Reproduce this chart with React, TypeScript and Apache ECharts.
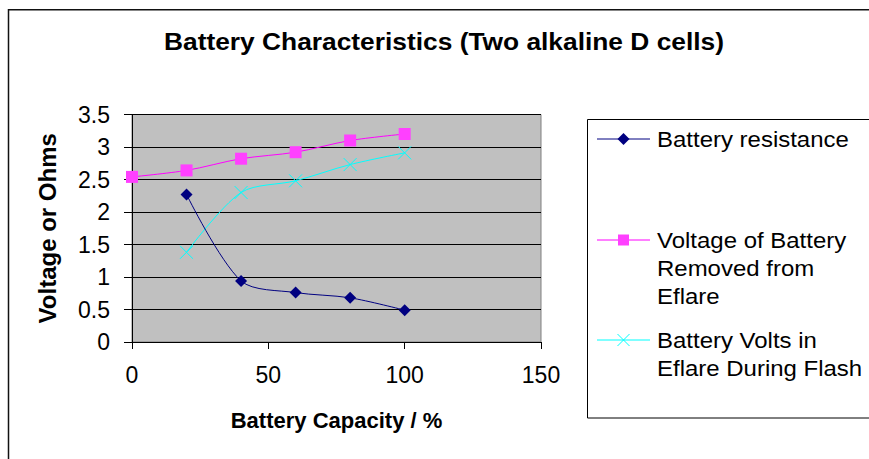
import React, { useEffect, useRef } from "react";
import * as echarts from "echarts";

const xResistance = [20, 40, 60, 80, 100];
const resistance = [2.27, 0.94, 0.76, 0.68, 0.49];
const xVoltageRemoved = [0, 20, 40, 60, 80, 100];
const voltageRemoved = [2.54, 2.64, 2.82, 2.92, 3.1, 3.2];
const xFlash = [20, 40, 60, 80, 100];
const voltsFlash = [1.38, 2.3, 2.48, 2.73, 2.91];

const seriesNames = [
  "Battery resistance",
  "Voltage of Battery Removed from Eflare",
  "Battery Volts in Eflare During Flash",
];
const legendLabels = [
  "Battery resistance",
  "Voltage of Battery\nRemoved from\nEflare",
  "Battery Volts in\nEflare During Flash",
];
const titleText = "Battery Characteristics (Two alkaline D cells)";
const xAxisName = "Battery Capacity / %";
const yAxisName = "Voltage or Ohms";

const FONT = "'Liberation Sans', Arial, sans-serif";
const NAVY = "#000080";
const MAGENTA = "#FF00FF";
const MARKER_MAGENTA = "#FF40FF";
const CYAN = "#00FFFF";

const pairs = (xs: number[], ys: number[]) => xs.map((x, i) => [x, ys[i]]);

export default function App() {
  const ref = useRef<HTMLDivElement>(null);
  useEffect(() => {
    if (!ref.current) return;
    const chart = echarts.init(ref.current, null, { renderer: "svg" });

    const lx1 = 597;
    const lx2 = 650;
    const lmid = (lx1 + lx2) / 2;
    const textX = 657;
    const rows = [139, 240, 340];
    const lineColors = [NAVY, MAGENTA, CYAN];

    const legendGraphics: any[] = [];
    rows.forEach((y, i) => {
      legendGraphics.push({
        type: "line",
        silent: true,
        shape: { x1: lx1, y1: y, x2: lx2, y2: y },
        style: { stroke: lineColors[i], lineWidth: 1 },
      });
      legendGraphics.push({
        type: "text",
        silent: true,
        x: textX,
        y: y - 14,
        scaleX: 1.09,
        style: {
          text: legendLabels[i],
          fontSize: 22,
          fontFamily: FONT,
          fill: "#000",
          lineHeight: 28,
          align: "left",
          verticalAlign: "top",
        },
      });
    });
    legendGraphics.push({
      type: "polygon",
      silent: true,
      shape: {
        points: [
          [lmid, rows[0] - 6],
          [lmid + 6, rows[0]],
          [lmid, rows[0] + 6],
          [lmid - 6, rows[0]],
        ],
      },
      style: { fill: NAVY },
    });
    legendGraphics.push({
      type: "rect",
      silent: true,
      shape: { x: lmid - 5.5, y: rows[1] - 5.5, width: 11, height: 11 },
      style: { fill: MARKER_MAGENTA },
    });
    legendGraphics.push({
      type: "line",
      silent: true,
      shape: { x1: lmid - 6, y1: rows[2] - 6, x2: lmid + 6, y2: rows[2] + 6 },
      style: { stroke: CYAN, lineWidth: 1 },
    });
    legendGraphics.push({
      type: "line",
      silent: true,
      shape: { x1: lmid - 6, y1: rows[2] + 6, x2: lmid + 6, y2: rows[2] - 6 },
      style: { stroke: CYAN, lineWidth: 1 },
    });

    chart.setOption({
      animation: false,
      backgroundColor: "#fff",
      grid: {
        left: 132,
        right: 328,
        top: 114.5,
        bottom: 117,
        show: true,
        backgroundColor: "#C0C0C0",
        borderColor: "#808080",
        borderWidth: 1,
      },
      xAxis: {
        type: "value",
        min: 0,
        max: 150,
        interval: 50,
        name: xAxisName,
        nameLocation: "middle",
        nameGap: 67,
        nameTextStyle: { fontSize: 22, fontWeight: "bold", fontFamily: FONT, color: "#000" },
        axisLine: { show: true, lineStyle: { color: "#000", width: 1 } },
        axisTick: { show: true, inside: false, length: 7, lineStyle: { color: "#000" } },
        axisLabel: { fontSize: 23, fontFamily: FONT, color: "#000", margin: 21 },
        splitLine: { show: false },
      },
      yAxis: {
        type: "value",
        min: 0,
        max: 3.5,
        interval: 0.5,
        name: yAxisName,
        nameLocation: "middle",
        nameGap: 73,
        nameTextStyle: { fontSize: 24, fontWeight: "bold", fontFamily: FONT, color: "#000" },
        axisLine: { show: true, lineStyle: { color: "#000", width: 1 } },
        axisTick: { show: true, inside: false, length: 8, lineStyle: { color: "#000" } },
        axisLabel: { fontSize: 23, fontFamily: FONT, color: "#000", margin: 22 },
        splitLine: { show: true, lineStyle: { color: "#000", width: 1 } },
      },
      graphic: [
        {
          type: "rect",
          silent: true,
          z: -10,
          shape: { x: 8.5, y: 9.75, width: 1000, height: 1000 },
          style: { fill: "none", stroke: "#111", lineWidth: 1.5 },
        },
        {
          type: "text",
          silent: true,
          x: 444,
          y: 42,
          scaleX: 1.145,
          style: {
            text: titleText,
            fontSize: 23,
            fontWeight: "bold",
            fontFamily: FONT,
            fill: "#000",
            align: "center",
            verticalAlign: "middle",
          },
        },
        {
          type: "rect",
          silent: true,
          shape: { x: 587.5, y: 119.5, width: 400, height: 298.5 },
          style: { fill: "none", stroke: "#000", lineWidth: 1 },
        },
        ...legendGraphics,
      ],
      series: [
        {
          name: seriesNames[0],
          type: "line",
          data: pairs(xResistance, resistance),
          smooth: 0.3,
          symbol: "diamond",
          symbolSize: 12,
          lineStyle: { color: NAVY, width: 1 },
          itemStyle: { color: NAVY },
          z: 4,
        },
        {
          name: seriesNames[1],
          type: "line",
          data: pairs(xVoltageRemoved, voltageRemoved),
          smooth: 0.3,
          symbol: "rect",
          symbolSize: 12,
          lineStyle: { color: MAGENTA, width: 1 },
          itemStyle: { color: MARKER_MAGENTA },
          z: 3,
        },
        {
          name: seriesNames[2],
          type: "line",
          data: pairs(xFlash, voltsFlash),
          smooth: 0.3,
          symbol: "path://M0,0L10,10M10,0L0,10",
          symbolSize: 13,
          lineStyle: { color: CYAN, width: 1 },
          itemStyle: { color: CYAN, borderColor: CYAN, borderWidth: 1 },
          z: 2,
        },
      ],
    });
    return () => chart.dispose();
  }, []);
  return (
    <div
      ref={ref}
      style={{ position: "absolute", left: 0, top: 0, width: 869, height: 459 }}
    />
  );
}
